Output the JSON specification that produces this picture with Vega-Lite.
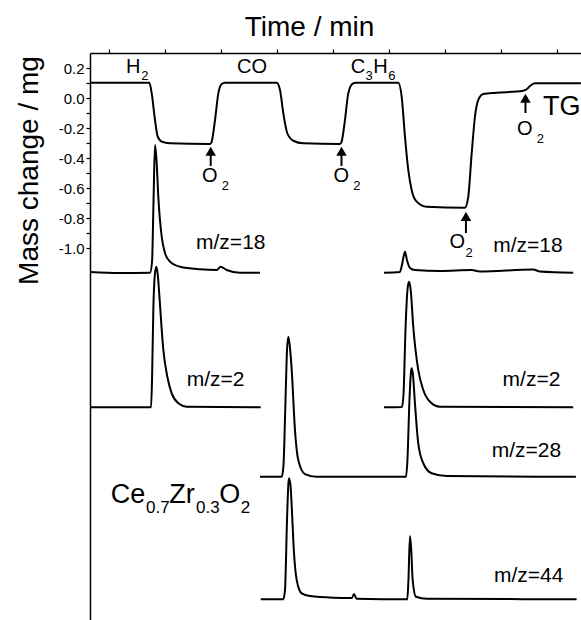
{
  "$schema": "https://vega.github.io/schema/vega-lite/v6.json",
  "autosize": {"type": "none"},
  "padding": {"left": 90, "top": 53, "right": 0, "bottom": 0},
  "width": 491,
  "height": 567,
  "background": "white",
  "config": {
    "view": {"stroke": null},
    "font": "Liberation Sans",
    "axis": {"grid": false, "domainColor": "black", "tickColor": "black", "labelColor": "black", "titleColor": "black", "labelFont": "Liberation Sans", "titleFont": "Liberation Sans", "titleFontWeight": "normal"}
  },
  "datasets": {
    "curves": [
      {"s": "TG", "t": 6.61, "v": 0.102}, {"s": "TG", "t": 17.2, "v": 0.102}, {"s": "TG", "t": 17.63, "v": 0.029}, {"s": "TG", "t": 18.21, "v": -0.147}, {"s": "TG", "t": 18.7, "v": -0.258}, {"s": "TG", "t": 19.41, "v": -0.291}, {"s": "TG", "t": 20.89, "v": -0.302}, {"s": "TG", "t": 28.04, "v": -0.307}, {"s": "TG", "t": 28.34, "v": -0.291}, {"s": "TG", "t": 28.93, "v": -0.147}, {"s": "TG", "t": 29.52, "v": 0.031}, {"s": "TG", "t": 30.13, "v": 0.093}, {"s": "TG", "t": 30.71, "v": 0.102}, {"s": "TG", "t": 39.95, "v": 0.102}, {"s": "TG", "t": 40.54, "v": 0.053}, {"s": "TG", "t": 41.13, "v": -0.102}, {"s": "TG", "t": 41.84, "v": -0.235}, {"s": "TG", "t": 42.91, "v": -0.285}, {"s": "TG", "t": 44.7, "v": -0.302}, {"s": "TG", "t": 51.25, "v": -0.307}, {"s": "TG", "t": 51.55, "v": -0.291}, {"s": "TG", "t": 52.14, "v": -0.147}, {"s": "TG", "t": 52.73, "v": 0.031}, {"s": "TG", "t": 53.52, "v": 0.096}, {"s": "TG", "t": 54.1, "v": 0.102}, {"s": "TG", "t": 61.66, "v": 0.102}, {"s": "TG", "t": 62.27, "v": 0.009}, {"s": "TG", "t": 62.86, "v": -0.258}, {"s": "TG", "t": 63.45, "v": -0.48}, {"s": "TG", "t": 64.05, "v": -0.613}, {"s": "TG", "t": 64.95, "v": -0.691}, {"s": "TG", "t": 66.73, "v": -0.725}, {"s": "TG", "t": 73.57, "v": -0.731}, {"s": "TG", "t": 74.16, "v": -0.66}, {"s": "TG", "t": 74.77, "v": -0.371}, {"s": "TG", "t": 75.36, "v": -0.125}, {"s": "TG", "t": 75.95, "v": -0.013}, {"s": "TG", "t": 76.84, "v": 0.027}, {"s": "TG", "t": 79.23, "v": 0.035}, {"s": "TG", "t": 83.98, "v": 0.049}, {"s": "TG", "t": 84.59, "v": 0.058}, {"s": "TG", "t": 85.18, "v": 0.08}, {"s": "TG", "t": 86.07, "v": 0.098}, {"s": "TG", "t": 94.29, "v": 0.098},

      {"s": "m18a", "t": 6.61, "v": -1.16}, {"s": "m18a", "t": 11.96, "v": -1.167}, {"s": "m18a", "t": 17.32, "v": -1.165}, {"s": "m18a", "t": 17.68, "v": -1.093}, {"s": "m18a", "t": 17.95, "v": -0.68}, {"s": "m18a", "t": 18.21, "v": -0.313}, {"s": "m18a", "t": 18.48, "v": -0.413}, {"s": "m18a", "t": 18.8, "v": -0.658}, {"s": "m18a", "t": 19.41, "v": -0.925}, {"s": "m18a", "t": 20.0, "v": -1.035}, {"s": "m18a", "t": 20.89, "v": -1.091}, {"s": "m18a", "t": 22.68, "v": -1.125}, {"s": "m18a", "t": 26.25, "v": -1.142}, {"s": "m18a", "t": 29.23, "v": -1.147}, {"s": "m18a", "t": 29.95, "v": -1.125}, {"s": "m18a", "t": 31.02, "v": -1.147}, {"s": "m18a", "t": 33.39, "v": -1.165}, {"s": "m18a", "t": 36.96, "v": -1.165},

      {"s": "m18b", "t": 59.11, "v": -1.165}, {"s": "m18b", "t": 61.96, "v": -1.16}, {"s": "m18b", "t": 62.32, "v": -1.113}, {"s": "m18b", "t": 62.86, "v": -1.025}, {"s": "m18b", "t": 63.21, "v": -1.08}, {"s": "m18b", "t": 63.75, "v": -1.133}, {"s": "m18b", "t": 64.64, "v": -1.147}, {"s": "m18b", "t": 69.11, "v": -1.153}, {"s": "m18b", "t": 74.77, "v": -1.147}, {"s": "m18b", "t": 76.25, "v": -1.157}, {"s": "m18b", "t": 85.77, "v": -1.143}, {"s": "m18b", "t": 86.96, "v": -1.157}, {"s": "m18b", "t": 92.91, "v": -1.165},

      {"s": "m2a", "t": 6.61, "v": -2.062}, {"s": "m2a", "t": 17.5, "v": -2.062}, {"s": "m2a", "t": 17.68, "v": -1.88}, {"s": "m2a", "t": 17.91, "v": -1.413}, {"s": "m2a", "t": 18.18, "v": -1.18}, {"s": "m2a", "t": 18.45, "v": -1.125}, {"s": "m2a", "t": 18.71, "v": -1.18}, {"s": "m2a", "t": 18.98, "v": -1.313}, {"s": "m2a", "t": 19.7, "v": -1.68}, {"s": "m2a", "t": 20.41, "v": -1.858}, {"s": "m2a", "t": 21.2, "v": -1.969}, {"s": "m2a", "t": 22.38, "v": -2.035}, {"s": "m2a", "t": 23.88, "v": -2.058}, {"s": "m2a", "t": 37.09, "v": -2.062},

      {"s": "m2b", "t": 59.11, "v": -2.062}, {"s": "m2b", "t": 62.32, "v": -2.06}, {"s": "m2b", "t": 62.59, "v": -1.98}, {"s": "m2b", "t": 62.95, "v": -1.547}, {"s": "m2b", "t": 63.3, "v": -1.28}, {"s": "m2b", "t": 63.57, "v": -1.225}, {"s": "m2b", "t": 63.88, "v": -1.28}, {"s": "m2b", "t": 64.34, "v": -1.525}, {"s": "m2b", "t": 65.23, "v": -1.813}, {"s": "m2b", "t": 66.13, "v": -1.947}, {"s": "m2b", "t": 67.32, "v": -2.025}, {"s": "m2b", "t": 69.11, "v": -2.058}, {"s": "m2b", "t": 92.91, "v": -2.062},

      {"s": "m28", "t": 36.96, "v": -2.525}, {"s": "m28", "t": 40.84, "v": -2.525}, {"s": "m28", "t": 41.16, "v": -2.447}, {"s": "m28", "t": 41.52, "v": -2.013}, {"s": "m28", "t": 41.79, "v": -1.68}, {"s": "m28", "t": 42.02, "v": -1.591}, {"s": "m28", "t": 42.27, "v": -1.647}, {"s": "m28", "t": 42.63, "v": -1.813}, {"s": "m28", "t": 43.21, "v": -2.213}, {"s": "m28", "t": 43.8, "v": -2.413}, {"s": "m28", "t": 45.0, "v": -2.507}, {"s": "m28", "t": 47.09, "v": -2.525}, {"s": "m28", "t": 63.04, "v": -2.525}, {"s": "m28", "t": 63.3, "v": -2.413}, {"s": "m28", "t": 63.66, "v": -2.013}, {"s": "m28", "t": 63.93, "v": -1.827}, {"s": "m28", "t": 64.05, "v": -1.802}, {"s": "m28", "t": 64.29, "v": -1.847}, {"s": "m28", "t": 64.64, "v": -2.035}, {"s": "m28", "t": 65.23, "v": -2.302}, {"s": "m28", "t": 66.13, "v": -2.435}, {"s": "m28", "t": 67.63, "v": -2.502}, {"s": "m28", "t": 70.3, "v": -2.52}, {"s": "m28", "t": 93.39, "v": -2.525},

      {"s": "m44", "t": 37.09, "v": -3.342}, {"s": "m44", "t": 41.13, "v": -3.342}, {"s": "m44", "t": 41.43, "v": -3.28}, {"s": "m44", "t": 41.79, "v": -2.813}, {"s": "m44", "t": 42.02, "v": -2.58}, {"s": "m44", "t": 42.14, "v": -2.535}, {"s": "m44", "t": 42.41, "v": -2.58}, {"s": "m44", "t": 42.63, "v": -2.725}, {"s": "m44", "t": 43.04, "v": -3.035}, {"s": "m44", "t": 43.52, "v": -3.213}, {"s": "m44", "t": 44.41, "v": -3.302}, {"s": "m44", "t": 45.89, "v": -3.32}, {"s": "m44", "t": 50.05, "v": -3.331}, {"s": "m44", "t": 53.39, "v": -3.333}, {"s": "m44", "t": 53.75, "v": -3.307}, {"s": "m44", "t": 54.23, "v": -3.338}, {"s": "m44", "t": 63.27, "v": -3.342}, {"s": "m44", "t": 63.48, "v": -3.213}, {"s": "m44", "t": 63.75, "v": -2.92}, {"s": "m44", "t": 63.98, "v": -3.013}, {"s": "m44", "t": 64.23, "v": -3.213}, {"s": "m44", "t": 64.82, "v": -3.325}, {"s": "m44", "t": 66.73, "v": -3.338}, {"s": "m44", "t": 93.52, "v": -3.342}
    ],
    "arrows": [
      {"t": 28.16, "tip": -0.355, "base": -0.453},
      {"t": 51.52, "tip": -0.355, "base": -0.453},
      {"t": 73.75, "tip": -0.789, "base": -0.9},
      {"t": 84.38, "tip": -0.002, "base": -0.1}
    ],
    "mainLabels": [
      {"label": "H", "t": 13.04, "v": 0.165},
      {"label": "CO", "t": 32.86, "v": 0.165},
      {"label": "C", "t": 53.16, "v": 0.165},
      {"label": "H", "t": 57.2, "v": 0.165},
      {"label": "O", "t": 26.6, "v": -0.558},
      {"label": "O", "t": 50.1, "v": -0.558},
      {"label": "O", "t": 70.8, "v": -1.002},
      {"label": "O", "t": 82.85, "v": -0.247}
    ],
    "subLabels": [
      {"label": "2", "t": 15.75, "v": 0.12},
      {"label": "3", "t": 55.8, "v": 0.12},
      {"label": "6", "t": 59.85, "v": 0.12},
      {"label": "2", "t": 30.13, "v": -0.613},
      {"label": "2", "t": 53.63, "v": -0.613},
      {"label": "2", "t": 73.66, "v": -1.063},
      {"label": "2", "t": 86.38, "v": -0.302}
    ],
    "mzLabels": [
      {"label": "m/z=18", "t": 25.54, "v": -1.009},
      {"label": "m/z=18", "t": 78.63, "v": -1.025},
      {"label": "m/z=2", "t": 23.88, "v": -1.92},
      {"label": "m/z=2", "t": 80.3, "v": -1.92},
      {"label": "m/z=28", "t": 78.34, "v": -2.391},
      {"label": "m/z=44", "t": 78.75, "v": -3.225}
    ],
    "bigLabels": [
      {"label": "TG", "t": 87.5, "v": -0.113},
      {"label": "Ce", "t": 10.3, "v": -2.698},
      {"label": "Zr", "t": 20.77, "v": -2.698},
      {"label": "O", "t": 29.7, "v": -2.698}
    ],
    "bigSubs": [
      {"label": "0.7", "t": 16.61, "v": -2.769},
      {"label": "0.3", "t": 25.54, "v": -2.769},
      {"label": "2", "t": 33.52, "v": -2.769}
    ]
  },
  "layer": [
    {
      "data": {"name": "curves"},
      "mark": {"type": "line", "color": "black", "strokeWidth": 2, "interpolate": "monotone"},
      "encoding": {
        "x": {"field": "t", "type": "quantitative", "scale": {"domain": [6.6, 94.3], "nice": false, "zero": false},
          "axis": {"orient": "top", "values": [10, 20, 30, 40, 50, 60, 70, 80, 90], "labels": false, "tickSize": 4, "tickWidth": 1.2, "domainWidth": 1.5,
            "title": "Time / min", "titleFontSize": 28, "titleX": 219, "titleY": -18, "titleBaseline": "alphabetic", "titleAlign": "center"}},
        "y": {"field": "v", "type": "quantitative", "scale": {"domain": [-3.48, 0.3], "nice": false, "zero": false},
          "axis": {"values": [-1.0, -0.9, -0.8, -0.7, -0.6, -0.5, -0.4, -0.3, -0.2, -0.1, 0.0, 0.1, 0.2],
            "labelExpr": "abs(round(datum.value*10))%2==1 ? '' : (datum.value < -0.001 ? '-' + format(-datum.value, '.1f') : format(abs(datum.value), '.1f'))",
            "labelFontSize": 15, "labelPadding": 2, "tickSize": 4, "tickWidth": 1.2, "domainWidth": 1.5,
            "title": "Mass change / mg", "titleFontSize": 28, "titleAngle": 270, "titleX": -53, "titleY": 117, "titleAlign": "center", "titleBaseline": "alphabetic"}},
        "detail": {"field": "s", "type": "nominal"}
      }
    },
    {
      "data": {"name": "arrows"},
      "mark": {"type": "rule", "color": "black", "strokeWidth": 2},
      "encoding": {
        "x": {"field": "t", "type": "quantitative"},
        "y": {"field": "tip", "type": "quantitative"},
        "y2": {"field": "base"}
      }
    },
    {
      "data": {"name": "arrows"},
      "mark": {"type": "point", "shape": "triangle-up", "filled": true, "color": "black", "opacity": 1, "size": 110},
      "encoding": {
        "x": {"field": "t", "type": "quantitative"},
        "y": {"field": "tip", "type": "quantitative"}
      }
    },
    {
      "data": {"name": "mainLabels"},
      "mark": {"type": "text", "fontSize": 20, "align": "left", "baseline": "alphabetic", "color": "black"},
      "encoding": {
        "x": {"field": "t", "type": "quantitative"},
        "y": {"field": "v", "type": "quantitative"},
        "text": {"field": "label"}
      }
    },
    {
      "data": {"name": "subLabels"},
      "mark": {"type": "text", "fontSize": 13, "align": "left", "baseline": "alphabetic", "color": "black"},
      "encoding": {
        "x": {"field": "t", "type": "quantitative"},
        "y": {"field": "v", "type": "quantitative"},
        "text": {"field": "label"}
      }
    },
    {
      "data": {"name": "mzLabels"},
      "mark": {"type": "text", "fontSize": 21, "align": "left", "baseline": "alphabetic", "color": "black"},
      "encoding": {
        "x": {"field": "t", "type": "quantitative"},
        "y": {"field": "v", "type": "quantitative"},
        "text": {"field": "label"}
      }
    },
    {
      "data": {"name": "bigLabels"},
      "mark": {"type": "text", "fontSize": 27, "align": "left", "baseline": "alphabetic", "color": "black"},
      "encoding": {
        "x": {"field": "t", "type": "quantitative"},
        "y": {"field": "v", "type": "quantitative"},
        "text": {"field": "label"}
      }
    },
    {
      "data": {"name": "bigSubs"},
      "mark": {"type": "text", "fontSize": 17, "align": "left", "baseline": "alphabetic", "color": "black"},
      "encoding": {
        "x": {"field": "t", "type": "quantitative"},
        "y": {"field": "v", "type": "quantitative"},
        "text": {"field": "label"}
      }
    }
  ]
}
